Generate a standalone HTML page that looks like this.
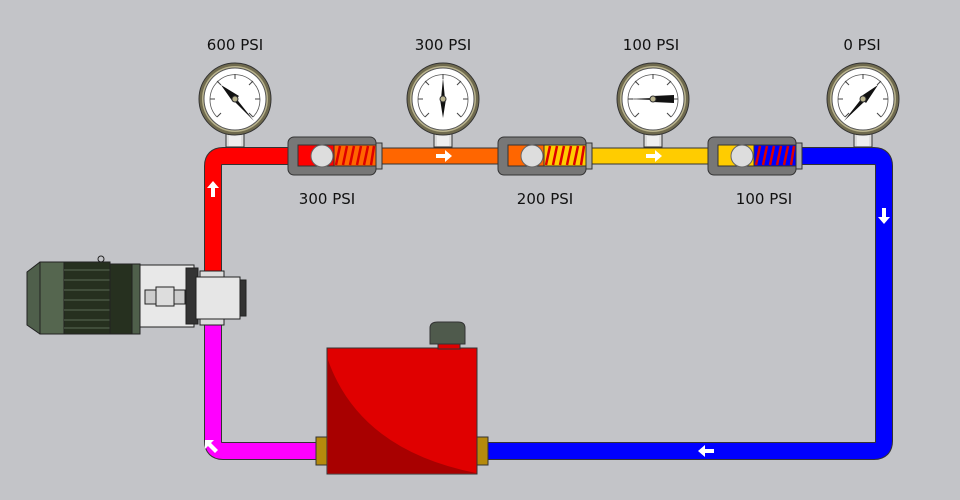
<!DOCTYPE html>
<html><head><meta charset="utf-8"><style>
html,body{margin:0;padding:0;background:#c3c4c8;}
svg{display:block}
text{font-family:"DejaVu Sans","Liberation Sans",sans-serif;font-size:15px;fill:#111;text-anchor:middle}
</style></head><body>
<svg width="960" height="500" viewBox="0 0 960 500">
<defs>
<g id="gauge">
 <rect x="-9" y="30" width="18" height="18" fill="#ddd" stroke="#333"/>
 <rect x="-6" y="31" width="12" height="16" fill="#eee" stroke="none"/>
 <circle r="36" fill="#6f6a4e" stroke="#333"/>
 <circle r="33" fill="#b9b38d"/>
 <circle r="31" fill="#fff" stroke="#555" stroke-width="1"/>
 <path d="M-18,18 A25,25 0 1 1 18,18" fill="none" stroke="#555" stroke-width="0.8"/>
 <g stroke="#444" stroke-width="1">
  <line x1="0" y1="-25" x2="0" y2="-20"/><line x1="18" y1="-18" x2="14" y2="-14"/><line x1="-18" y1="-18" x2="-14" y2="-14"/>
  <line x1="25" y1="0" x2="20" y2="0"/><line x1="-25" y1="0" x2="-20" y2="0"/>
  <line x1="18" y1="18" x2="14" y2="14"/><line x1="-18" y1="18" x2="-14" y2="14"/>
 </g>
</g>
<g id="valve">
 <rect x="0" y="0" width="88" height="38" rx="6" fill="#777" stroke="#333"/>
 <rect x="88" y="6" width="6" height="26" fill="#aaa" stroke="#333"/>
</g>
</defs>

<g stroke="#333" stroke-width="1">
 <path d="M213,272 V166 Q213,156 223,156 H290" fill="none" stroke="#333" stroke-width="18"/>
 <path d="M213,272 V166 Q213,156 223,156 H290" fill="none" stroke="#ff0000" stroke-width="16"/>
 <rect x="380" y="148" width="120" height="16" fill="#ff6600"/>
 <rect x="590" y="148" width="120" height="16" fill="#ffcc00"/>
 <path d="M800,156 H874 Q884,156 884,166 V441 Q884,451 874,451 H480" fill="none" stroke="#333" stroke-width="18"/>
 <path d="M800,156 H874 Q884,156 884,166 V441 Q884,451 874,451 H480" fill="none" stroke="#0000ff" stroke-width="16"/>
 <path d="M213,320 V441 Q213,451 223,451 H322" fill="none" stroke="#333" stroke-width="18"/>
 <path d="M213,320 V441 Q213,451 223,451 H322" fill="none" stroke="#ff00ff" stroke-width="16"/>
</g>

<g fill="#fff">
 <path d="M213,181 l-6,7 h4 v9 h4 v-9 h4z"/>
 <path d="M452,156 l-7,-6 v4 h-9 v4 h9 v4z"/>
 <path d="M662,156 l-7,-6 v4 h-9 v4 h9 v4z"/>
 <path d="M884,224 l-6,-7 h4 v-9 h4 v9 h4z"/>
 <path d="M698,451 l7,-6 v4 h9 v4 h-9 v4z"/>
 <path d="M205,440 l9,0 -3,3 7,7 -3,3 -7,-7 -3,3z"/>
</g>

<use href="#gauge" x="235" y="99"/>
<use href="#gauge" x="443" y="99"/>
<use href="#gauge" x="653" y="99"/>
<use href="#gauge" x="863" y="99"/>
<g fill="#111">
 <path d="M221,85 L239,96 L233,102z M235,97 L254,121 L233,100z"/>
 <path d="M440,99 L446,99 L443,118z M441,99 L445,99 L443,78z"/>
 <path d="M653,96 L674,95 L674,103 L653,102z M653,98 L627,99 L653,100z"/>
 <path d="M878,85 L866,103 L860,97z M862,98 L865,101 L844,121z"/>
</g>
<g fill="#b9b38d" stroke="#333"><circle cx="235" cy="99" r="3"/><circle cx="443" cy="99" r="3"/><circle cx="653" cy="99" r="3"/><circle cx="863" cy="99" r="3"/></g>

<g>
 <use href="#valve" x="288" y="137"/>
 <rect x="298" y="145" width="36" height="21" fill="#ff0000" stroke="#333"/>
 <rect x="334" y="145" width="42" height="21" fill="#ff6600" stroke="#333"/>
 <use href="#valve" x="498" y="137"/>
 <rect x="508" y="145" width="36" height="21" fill="#ff6600" stroke="#333"/>
 <rect x="544" y="145" width="42" height="21" fill="#ffcc00" stroke="#333"/>
 <use href="#valve" x="708" y="137"/>
 <rect x="718" y="145" width="36" height="21" fill="#ffcc00" stroke="#333"/>
 <rect x="754" y="145" width="42" height="21" fill="#0000ff" stroke="#333"/>
 <g stroke="#d00" stroke-width="2.5">
  <path d="M336,165 l4,-19 M343,165 l4,-19 M350,165 l4,-19 M357,165 l4,-19 M364,165 l4,-19 M371,165 l3,-19"/>
  <path d="M546,165 l4,-19 M553,165 l4,-19 M560,165 l4,-19 M567,165 l4,-19 M574,165 l4,-19 M581,165 l3,-19"/>
  <path d="M756,165 l4,-19 M763,165 l4,-19 M770,165 l4,-19 M777,165 l4,-19 M784,165 l4,-19 M791,165 l3,-19"/>
 </g>
 <g fill="#ddd" stroke="#666"><circle cx="322" cy="156" r="11"/><circle cx="532" cy="156" r="11"/><circle cx="742" cy="156" r="11"/></g>
</g>

<text x="235" y="50">600 PSI</text>
<text x="443" y="50">300 PSI</text>
<text x="651" y="50">100 PSI</text>
<text x="862" y="50">0 PSI</text>
<text x="327" y="204">300 PSI</text>
<text x="545" y="204">200 PSI</text>
<text x="764" y="204">100 PSI</text>

<g stroke="#222">
 <path d="M27,272 L40,262 H64 V334 H40 L27,325z" fill="#4f5f4b"/>
 <rect x="40" y="262" width="24" height="72" fill="#55664f"/>
 <rect x="64" y="262" width="46" height="72" fill="#26301f"/>
 <g stroke="#5a6a56" stroke-width="1"><line x1="64" y1="270" x2="110" y2="270"/><line x1="64" y1="280" x2="110" y2="280"/><line x1="64" y1="290" x2="110" y2="290"/><line x1="64" y1="300" x2="110" y2="300"/><line x1="64" y1="310" x2="110" y2="310"/><line x1="64" y1="320" x2="110" y2="320"/><line x1="64" y1="328" x2="110" y2="328"/></g>
 <circle cx="101" cy="259" r="3" fill="none"/>
 <rect x="110" y="264" width="22" height="70" fill="#26301f"/>
 <rect x="132" y="264" width="8" height="70" fill="#4f5f4b"/>
 <rect x="140" y="265" width="54" height="62" fill="#e8e8e8"/>
 <rect x="145" y="290" width="40" height="14" fill="#ccc"/>
 <rect x="156" y="287" width="18" height="19" fill="#ddd"/>
 <rect x="186" y="268" width="12" height="56" fill="#333"/>
 <rect x="196" y="277" width="44" height="42" fill="#e6e6e6"/>
 <rect x="240" y="280" width="6" height="36" fill="#333"/>
 <rect x="200" y="271" width="24" height="6" fill="#ddd"/>
 <rect x="200" y="319" width="24" height="6" fill="#ddd"/>
</g>

<g stroke="#333">
 <rect x="316" y="437" width="12" height="28" fill="#b58a0c"/>
 <rect x="476" y="437" width="12" height="28" fill="#b58a0c"/>
 <rect x="327" y="348" width="150" height="126" fill="#e00000"/>
 <path d="M328,360 Q360,450 476,473 H328z" fill="#a80000" stroke="none"/>
 <rect x="438" y="343" width="22" height="6" fill="#e00000"/>
 <path d="M430,344 V328 Q430,322 438,322 H458 Q465,322 465,328 V344z" fill="#4f5a4c"/>
</g>
</svg>
</body></html>
